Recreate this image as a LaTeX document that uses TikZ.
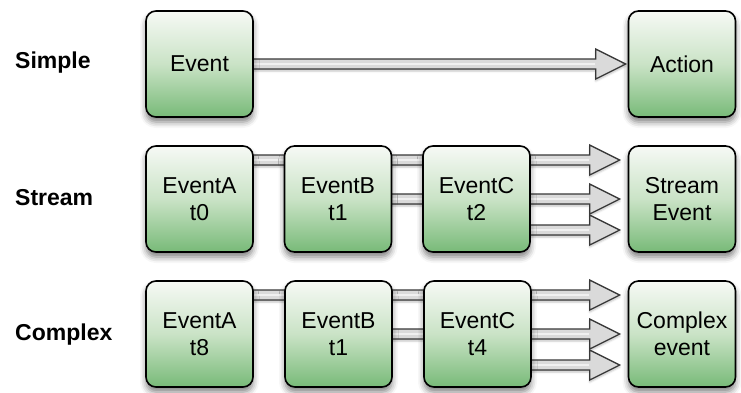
\documentclass[tikz,border=0pt]{standalone}
\usepackage{fontspec}
\setmainfont{Liberation Sans}
\usetikzlibrary{calc,shadows.blur}
\pgfdeclarelayer{background}
\pgfsetlayers{background,main}

\definecolor{evtop}{RGB}{246,249,245}
\definecolor{evmid}{RGB}{202,227,198}
\definecolor{evbot}{RGB}{120,186,120}
\definecolor{pipefill}{RGB}{218,218,218}
\definecolor{pipeline}{RGB}{55,55,55}

% fat hollow arrow from node #1 to node #2, #3 = shift from the centre line, #4 = gap before the target
\newcommand\pipe[4]{%
  \path[pipe] let \p1=([yshift=#3]#1.east), \p2=(#2.west) in
    (\x1-6pt,\y1+5pt) -- (\x2-#4-30pt,\y1+5pt) -- (\x2-#4-30pt,\y1+15pt) -- (\x2-#4,\y1)
    -- (\x2-#4-30pt,\y1-15pt) -- (\x2-#4-30pt,\y1-5pt) -- (\x1-6pt,\y1-5pt) -- cycle;
  \path[pipeshine] let \p1=([yshift=#3]#1.east), \p2=(#2.west) in
    (\x1-6pt,\y1) -- (\x2-#4-31pt,\y1);}

\begin{document}
\begin{tikzpicture}[x=1pt,y=-1pt,
    evbox/.style={draw=black, line width=1.6pt, rounded corners=10pt,
      minimum width=107pt, minimum height=106pt,
      top color=evtop, bottom color=evbot, middle color=evmid,
      align=center, font=\fontsize{23}{27}\selectfont,
      blur shadow={shadow xshift=0pt, shadow yshift=-5pt,
        shadow blur radius=6pt, shadow opacity=50}},
    rowlabel/.style={anchor=west, inner sep=0pt, font=\bfseries\fontsize{23}{27}\selectfont},
    pipe/.style={draw=pipeline, fill=pipefill, line width=1.3pt, line join=miter,
      blur shadow={shadow xshift=0pt, shadow yshift=-2pt,
        shadow blur radius=2pt, shadow opacity=25}},
    pipeshine/.style={draw=white, line width=2pt, opacity=.6}]
  \useasboundingbox (0,0) rectangle (741,392);

  % simple
  \node[rowlabel] (lsimple) at (15,63) {Simple};
  \node[evbox] (ev) at (199.5,64) {Event};
  \node[evbox] (act) at (682,64) {Action};

  % stream
  \node[rowlabel] (lstream) at (15,198) {Stream};
  \node[evbox] (sa) at (199.5,199) {EventA\\t0};
  \node[evbox] (sb) at (338,199) {EventB\\t1};
  \node[evbox] (sc) at (476.5,199) {EventC\\t2};
  \node[evbox] (se) at (682,199) {Stream\\Event};

  % complex
  \node[rowlabel] (lcomplex) at (15,335) {Complex};
  \node[evbox] (ca) at (199.5,334) {EventA\\t8};
  \node[evbox] (cb) at (338.5,334) {EventB\\t1};
  \node[evbox] (cc) at (477.5,334) {EventC\\t4};
  \node[evbox] (cx) at (682,334) {Complex\\event};

  \begin{pgfonlayer}{background}
    \pipe{ev}{act}{0pt}{2pt}
    \pipe{sa}{se}{39pt}{8pt}
    \pipe{sb}{se}{0pt}{8pt}
    \pipe{sc}{se}{-31pt}{8pt}
    \pipe{ca}{cx}{39pt}{8pt}
    \pipe{cb}{cx}{0pt}{8pt}
    \pipe{cc}{cx}{-31pt}{8pt}
  \end{pgfonlayer}
\end{tikzpicture}
\end{document}
